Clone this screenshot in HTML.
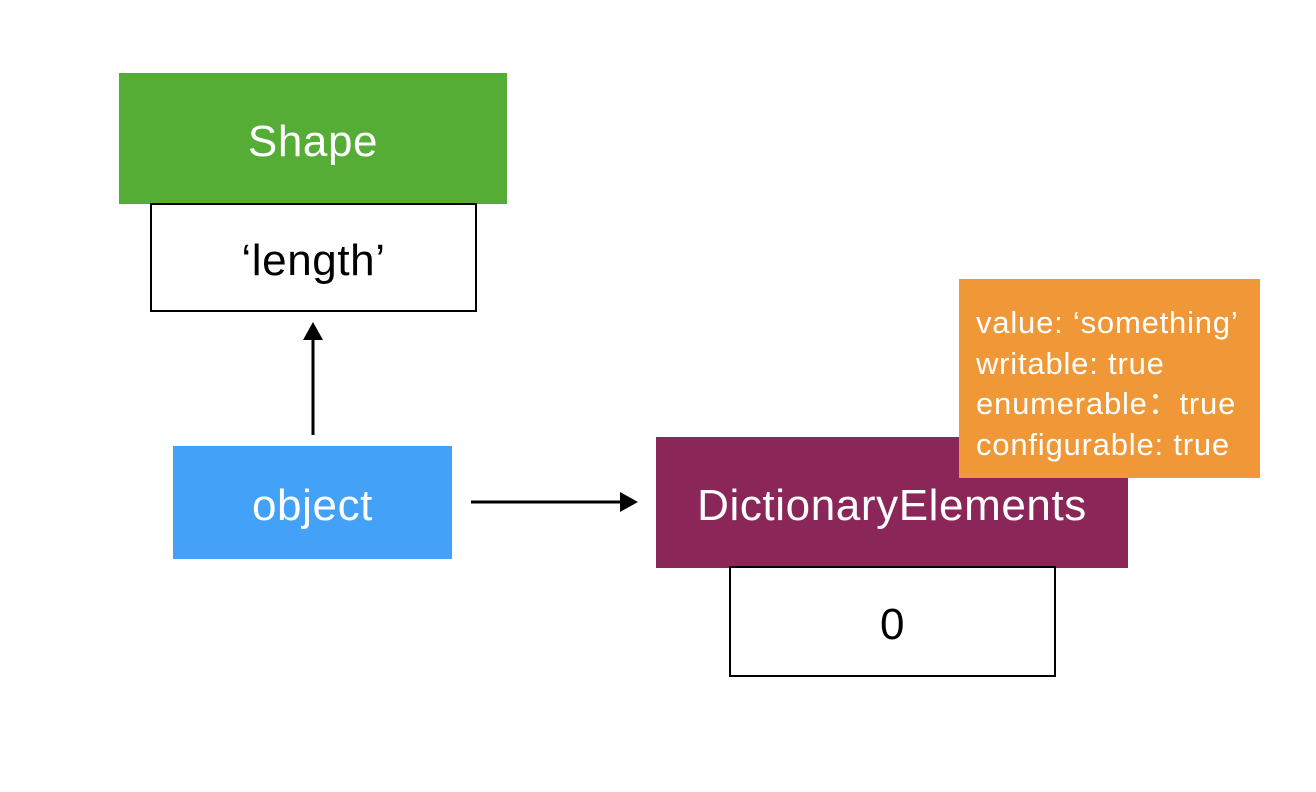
<!DOCTYPE html>
<html><head><style>
body{margin:0;width:1316px;height:792px;background:#fff;position:relative;overflow:hidden;font-family:"Liberation Sans",Arial,sans-serif}
.b{position:absolute;box-sizing:border-box;display:flex;align-items:center;justify-content:center;font-size:44px;letter-spacing:0.6px;padding-top:6px}
</style></head><body>
<div class="b" style="left:119px;top:73px;width:388px;height:131px;background:#56ad35;color:#fff">Shape</div>
<div class="b" style="left:150px;top:203px;width:327px;height:109px;border:2px solid #000">‘length’</div>
<div class="b" style="left:173px;top:446px;width:279px;height:113px;background:#43a2f8;color:#fff">object</div>
<div class="b" style="left:656px;top:437px;width:472px;height:131px;background:#8b2758;color:#fff">DictionaryElements</div>
<div class="b" style="left:729px;top:566px;width:327px;height:111px;border:2px solid #000">0</div>
<div style="position:absolute;left:959px;top:279px;width:301px;height:199px;background:#f09838;color:#fff;font-size:31px;letter-spacing:0.8px;line-height:40.5px;padding:24px 0 0 17px;box-sizing:border-box;white-space:nowrap;overflow:hidden">value: ‘something’<br>writable: true<br>enumerable：true<br>configurable: true</div>
<svg width="1316" height="792" style="position:absolute;left:0;top:0">
<line x1="313" y1="435" x2="313" y2="338" stroke="#000" stroke-width="3"/>
<polygon points="303,340 323,340 313,322" fill="#000"/>
<line x1="471" y1="502" x2="622" y2="502" stroke="#000" stroke-width="3"/>
<polygon points="620,492 620,512 638,502" fill="#000"/>
</svg>
</body></html>
